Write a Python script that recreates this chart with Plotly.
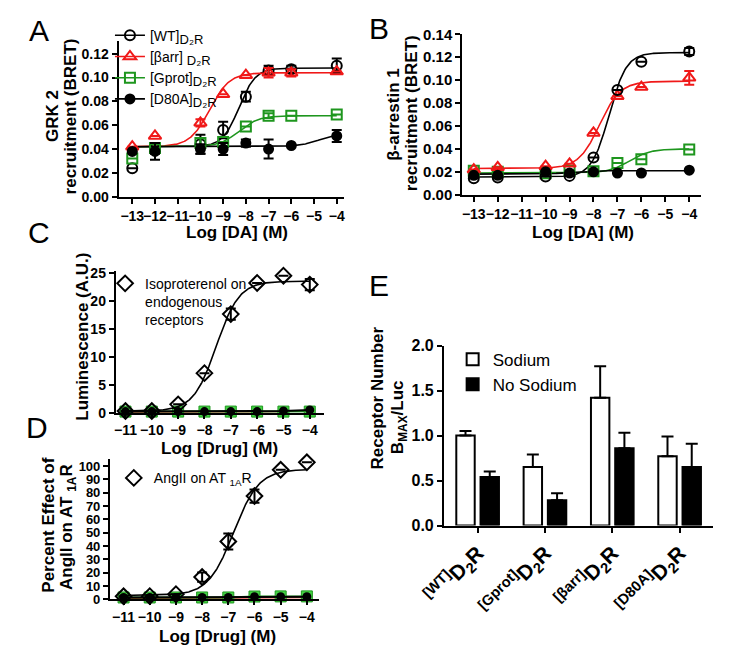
import numpy as np
import plotly.graph_objects as go

FONT = "Liberation Sans, Arial, Helvetica, sans-serif"
BLACK = "#000000"
RED = "#f01818"
GREEN = "#1e961e"
LIGHTGREEN = "#44d444"

W, H = 750, 661

# ---------------- Panel A : GRK2 recruitment ----------------
a_logx = [-13, -12, -10, -9, -8, -7, -6, -4]
a_wt = [0.024, 0.040, 0.044, 0.056, 0.084, 0.106, 0.107, 0.110]
a_wt_err = [0.0, 0.004, 0.008, 0.007, 0.004, 0.004, 0.003, 0.006]
a_barr = [0.042, 0.051, 0.062, 0.086, 0.102, 0.104, 0.104, 0.105]
a_barr_err = [0.0, 0.0, 0.003, 0.0, 0.0, 0.004, 0.003, 0.0]
a_gprot = [0.032, 0.041, 0.045, 0.046, 0.059, 0.068, 0.068, 0.069]
a_gprot_err = [0.0, 0.003, 0.004, 0.0, 0.0, 0.002, 0.0, 0.0]
a_d80a = [0.038, 0.038, 0.040, 0.040, 0.045, 0.040, 0.043, 0.051]
a_d80a_err = [0.0, 0.007, 0.004, 0.005, 0.003, 0.008, 0.0, 0.005]
# fitted sigmoid parameters [bottom, top, logEC50, hill]
a_wt_fit = [0.042, 0.108, -8.3, 1.2]
a_barr_fit = [0.042, 0.104, -9.6, 1.0]
a_gprot_fit = [0.042, 0.068, -8.3, 1.0]
a_d80a_fit = [0.042, 0.053, -4.8, 1.0]

# ---------------- Panel B : beta-arrestin 1 recruitment ----------------
b_logx = [-13, -12, -10, -9, -8, -7, -6, -4]
b_wt = [0.0145, 0.015, 0.016, 0.0165, 0.0325, 0.0915, 0.116, 0.125]
b_wt_err = [0.0, 0.0, 0.0, 0.0, 0.0, 0.0, 0.0, 0.003]
b_barr = [0.022, 0.024, 0.025, 0.027, 0.054, 0.086, 0.094, 0.102]
b_barr_err = [0.0, 0.0, 0.0, 0.0, 0.0, 0.0, 0.0, 0.006]
b_gprot = [0.021, 0.020, 0.0187, 0.021, 0.0206, 0.0277, 0.031, 0.0396]
b_gprot_err = [0.0, 0.0, 0.0, 0.0, 0.0, 0.0, 0.0, 0.0]
b_d80a = [0.017, 0.017, 0.020, 0.019, 0.020, 0.019, 0.019, 0.0215]
b_d80a_err = [0.0, 0.0, 0.0, 0.0, 0.0, 0.0, 0.0, 0.0]
b_wt_fit = [0.0155, 0.124, -7.35, 1.2]
b_barr_fit = [0.023, 0.099, -7.75, 1.0]
b_gprot_fit = [0.019, 0.040, -6.5, 1.0]
b_d80a_fit = [0.018, 0.021, -9.0, 1.0]

# ---------------- Panel C : Isoproterenol luminescence ----------------
c_logx = [-11, -10, -9, -8, -7, -6, -5, -4]
c_iso = [0.3, 0.3, 1.5, 7.1, 17.7, 23.3, 24.6, 23.0]
c_iso_err = [0.0, 0.0, 0.0, 0.0, 1.0, 0.0, 0.0, 1.0]
c_iso_fit = [0.3, 23.6, -7.55, 1.0]
c_barr = [0.1, 0.1, 0.1, 0.1, 0.1, 0.1, 0.2, 0.4]
c_gprot = [0.2, 0.2, 0.2, 0.2, 0.2, 0.2, 0.2, 0.2]
c_d80a = [0.2, 0.2, 0.2, 0.2, 0.2, 0.2, 0.3, 0.5]

# ---------------- Panel D : AngII on AT1AR ----------------
d_logx = [-11, -10, -9, -8, -7, -6, -5, -4]
d_ang = [2.4, 2.5, 4.0, 16.8, 43.5, 77.5, 97.2, 102.8]
d_ang_err = [0.0, 0.0, 0.0, 3.5, 6.0, 5.0, 0.0, 0.0]
d_ang_fit = [3.0, 97.5, -6.8, 0.9]
d_barr = [1.0, 1.0, 1.2, 1.0, 1.2, 1.5, 1.5, 1.5]
d_gprot = [1.5, 1.5, 1.5, 1.5, 1.5, 2.2, 2.3, 2.3]
d_d80a = [1.5, 1.5, 1.5, 1.5, 1.5, 2.0, 2.0, 2.0]

# ---------------- Panel E : receptor number ----------------
e_labels = ["<sup>[WT]</sup>D<sub>2</sub>R", "<sup>[Gprot]</sup>D<sub>2</sub>R",
            "<sup>[βarr]</sup>D<sub>2</sub>R", "<sup>[D80A]</sup>D<sub>2</sub>R"]
e_sodium = [1.00, 0.65, 1.42, 0.77]
e_sodium_err = [0.05, 0.14, 0.35, 0.22]
e_nosodium = [0.54, 0.28, 0.86, 0.65]
e_nosodium_err = [0.06, 0.08, 0.17, 0.26]


def hill(x, p):
    bottom, top, ec50, n = p
    x = np.asarray(x, dtype=float)
    return bottom + (top - bottom) / (1.0 + 10.0 ** ((ec50 - x) * n))


def gap(seq):
    """interleave None so markers show without connecting segments"""
    out = []
    for v in seq:
        out += [v, None]
    return out[:-1]


def gap0(seq):
    out = []
    for v in seq:
        out += [v, 0]
    return out[:-1]


def px_x(px):
    return px / W


def px_y(py):
    return 1 - py / H


fig = go.Figure()

xs_ab = np.linspace(-13, -4, 300)
xs_cd = np.linspace(-11, -4, 300)

# ---- A curves ----
for fit, col in [(a_wt_fit, BLACK), (a_barr_fit, RED), (a_gprot_fit, GREEN), (a_d80a_fit, BLACK)]:
    fig.add_trace(go.Scatter(x=xs_ab, y=hill(xs_ab, fit), mode="lines",
                             line=dict(color=col, width=1.6), showlegend=False,
                             hoverinfo="skip", xaxis="x", yaxis="y"))

series_a = [
    ("[WT]<sub><span style='font-size:13px'>D₂R</span></sub>", a_wt, a_wt_err, BLACK, "circle-open", 10),
    ("[βarr] <sub><span style='font-size:13px'>D₂R</span></sub>", a_barr, a_barr_err, RED, "triangle-up-open", 11),
    ("[Gprot]<sub><span style='font-size:13px'>D₂R</span></sub>", a_gprot, a_gprot_err, GREEN, "square-open", 10),
    ("[D80A]<sub><span style='font-size:13px'>D₂R</span></sub>", a_d80a, a_d80a_err, BLACK, "circle", 9),
]
for name, ys, err, col, sym, size in series_a:
    fig.add_trace(go.Scatter(
        x=gap(a_logx), y=gap(ys), mode="lines+markers", connectgaps=False, name=name,
        line=dict(color=col, width=1.6),
        marker=dict(symbol=sym, size=size, color=col, line=dict(color=col, width=2)),
        error_y=dict(type="data", array=gap0(err), color=col, thickness=2, width=5),
        cliponaxis=False, legend="legend", xaxis="x", yaxis="y"))

# ---- B ----
for fit, col in [(b_wt_fit, BLACK), (b_barr_fit, RED), (b_gprot_fit, GREEN), (b_d80a_fit, BLACK)]:
    fig.add_trace(go.Scatter(x=xs_ab, y=hill(xs_ab, fit), mode="lines",
                             line=dict(color=col, width=1.6), showlegend=False,
                             hoverinfo="skip", xaxis="x2", yaxis="y2"))
series_b = [
    (b_gprot, b_gprot_err, GREEN, "square-open", 10),
    (b_barr, b_barr_err, RED, "triangle-up-open", 11),
    (b_d80a, b_d80a_err, BLACK, "circle", 9),
    (b_wt, b_wt_err, BLACK, "circle-open", 10),
]
for ys, err, col, sym, size in series_b:
    fig.add_trace(go.Scatter(
        x=b_logx, y=ys, mode="markers", showlegend=False,
        marker=dict(symbol=sym, size=size, color=col, line=dict(color=col, width=2)),
        error_y=dict(type="data", array=err, color=col, thickness=2, width=5),
        cliponaxis=False, xaxis="x2", yaxis="y2"))

# ---- C ----
fig.add_trace(go.Scatter(x=c_logx, y=c_barr, mode="lines+markers", showlegend=False,
                         line=dict(color=RED, width=1.5),
                         marker=dict(symbol="triangle-up", size=7, color=RED),
                         cliponaxis=False, xaxis="x3", yaxis="y3"))
fig.add_trace(go.Scatter(x=c_logx, y=c_gprot, mode="lines+markers", showlegend=False,
                         line=dict(color=GREEN, width=2),
                         marker=dict(symbol="square", size=11, color=LIGHTGREEN, line=dict(color=GREEN, width=1)),
                         cliponaxis=False, xaxis="x3", yaxis="y3"))
fig.add_trace(go.Scatter(x=c_logx, y=c_d80a, mode="lines+markers", showlegend=False,
                         line=dict(color=BLACK, width=2),
                         marker=dict(symbol="circle", size=9, color=BLACK),
                         cliponaxis=False, xaxis="x3", yaxis="y3"))
fig.add_trace(go.Scatter(x=xs_cd, y=hill(xs_cd, c_iso_fit), mode="lines", showlegend=False,
                         line=dict(color=BLACK, width=1.6), hoverinfo="skip",
                         xaxis="x3", yaxis="y3"))
fig.add_trace(go.Scatter(x=c_logx, y=c_iso, mode="markers",
                         name="Isoproterenol on<br>endogenous<br>receptors",
                         marker=dict(symbol="diamond-open", size=12, color=BLACK, line=dict(color=BLACK, width=2)),
                         error_y=dict(type="data", array=c_iso_err, color=BLACK, thickness=2, width=5),
                         cliponaxis=False, legend="legend2", xaxis="x3", yaxis="y3"))

# ---- D ----
fig.add_trace(go.Scatter(x=d_logx, y=d_barr, mode="lines+markers", showlegend=False,
                         line=dict(color=RED, width=1.5),
                         marker=dict(symbol="triangle-up", size=7, color=RED),
                         cliponaxis=False, xaxis="x4", yaxis="y4"))
fig.add_trace(go.Scatter(x=d_logx, y=d_gprot, mode="lines+markers", showlegend=False,
                         line=dict(color=GREEN, width=2),
                         marker=dict(symbol="square", size=11, color=LIGHTGREEN, line=dict(color=GREEN, width=1)),
                         cliponaxis=False, xaxis="x4", yaxis="y4"))
fig.add_trace(go.Scatter(x=d_logx, y=d_d80a, mode="lines+markers", showlegend=False,
                         line=dict(color=BLACK, width=2),
                         marker=dict(symbol="circle", size=9, color=BLACK),
                         cliponaxis=False, xaxis="x4", yaxis="y4"))
fig.add_trace(go.Scatter(x=xs_cd, y=hill(xs_cd, d_ang_fit), mode="lines", showlegend=False,
                         line=dict(color=BLACK, width=1.6), hoverinfo="skip",
                         xaxis="x4", yaxis="y4"))
fig.add_trace(go.Scatter(x=d_logx, y=d_ang, mode="markers",
                         name="AngII on AT <sub>1A</sub>R",
                         marker=dict(symbol="diamond-open", size=12, color=BLACK, line=dict(color=BLACK, width=2)),
                         error_y=dict(type="data", array=d_ang_err, color=BLACK, thickness=2, width=5),
                         cliponaxis=False, legend="legend3", xaxis="x4", yaxis="y4"))

# ---- E ----
fig.add_trace(go.Bar(x=e_labels, y=e_sodium, name="Sodium",
                     marker=dict(color="white", line=dict(color=BLACK, width=2)),
                     error_y=dict(type="data", array=e_sodium_err, arrayminus=[0] * 4, symmetric=False,
                                  color=BLACK, thickness=2, width=6),
                     legend="legend4", xaxis="x5", yaxis="y5"))
fig.add_trace(go.Bar(x=e_labels, y=e_nosodium, name="No Sodium",
                     marker=dict(color=BLACK, line=dict(color=BLACK, width=2)),
                     error_y=dict(type="data", array=e_nosodium_err, arrayminus=[0] * 4, symmetric=False,
                                  color=BLACK, thickness=2, width=6),
                     legend="legend4", xaxis="x5", yaxis="y5"))

# ---------------- axes ----------------
def ax(**kw):
    base = dict(showline=True, linecolor=BLACK, linewidth=2, ticks="outside", ticklen=5,
                tickwidth=2, tickcolor=BLACK, showgrid=False, zeroline=False, mirror=False,
                tickangle=0,
                tickfont=dict(family=FONT, size=14, color=BLACK, weight="bold"), fixedrange=True)
    base.update(kw)
    return base


ab_ticks = list(range(-13, -3))
cd_ticks = list(range(-11, -3))

fig.update_layout(
    width=W, height=H, margin=dict(l=0, r=0, t=0, b=0),
    paper_bgcolor="white", plot_bgcolor="white",
    barmode="group", bargap=0.28, bargroupgap=0.24,
    xaxis=ax(domain=[px_x(97), px_x(330)], range=[-13.6, -3.7], tickvals=ab_ticks, anchor="y"),
    yaxis=ax(domain=[px_y(193), px_y(33)], range=[0, 0.1306], tickvals=[0, 0.02, 0.04, 0.06, 0.08, 0.10, 0.12],
             tickformat=".2f", anchor="x"),
    xaxis2=ax(domain=[px_x(453), px_x(700)], range=[-13.48, -3.52], tickvals=ab_ticks, anchor="y2"),
    yaxis2=ax(domain=[px_y(191), px_y(26)], range=[0, 0.14], tickvals=[0, 0.02, 0.04, 0.06, 0.08, 0.10, 0.12, 0.14],
              tickformat=".2f", anchor="x2", tickfont=dict(family=FONT, size=15, color=BLACK, weight="bold")),
    xaxis3=ax(domain=[px_x(94), px_x(310)], range=[-11.37, -3.45], tickvals=cd_ticks, anchor="y3", ticklen=4),
    yaxis3=ax(domain=[px_y(415), px_y(269)], range=[0, 25.5], tickvals=[0, 5, 10, 15, 20, 25], anchor="x3"),
    xaxis4=ax(domain=[px_x(88), px_x(305)], range=[-11.52, -3.52], tickvals=cd_ticks, anchor="y4", ticklen=4),
    yaxis4=ax(domain=[px_y(607), px_y(463)], range=[0, 105], tickvals=list(range(0, 101, 10)), anchor="x4",
              tickfont=dict(family=FONT, size=13, color=BLACK, weight="bold")),
    xaxis5=ax(domain=[px_x(434), px_x(713)], range=[-0.5, 3.5], anchor="y5", type="category",
              tickangle=-45, tickfont=dict(family=FONT, size=21, color=BLACK, weight="bold")),
    yaxis5=ax(domain=[px_y(531), px_y(346)], range=[0, 2.0], tickvals=[0, 0.5, 1.0, 1.5, 2.0],
              tickformat=".1f", anchor="x5", tickfont=dict(family=FONT, size=16, color=BLACK, weight="bold")),
    legend=dict(x=px_x(88), y=px_y(11), xanchor="left", yanchor="top", bgcolor="rgba(0,0,0,0)",
                font=dict(family=FONT, size=14, color=BLACK), itemwidth=30, tracegroupgap=0,
                traceorder="normal", itemclick=False, itemdoubleclick=False),
    legend2=dict(x=px_x(83), y=px_y(266), xanchor="left", yanchor="top", bgcolor="rgba(0,0,0,0)",
                 font=dict(family=FONT, size=14, color=BLACK), itemwidth=30, valign="top",
                 itemclick=False, itemdoubleclick=False),
    legend3=dict(x=px_x(92), y=px_y(466), xanchor="left", yanchor="top", bgcolor="rgba(0,0,0,0)",
                 font=dict(family=FONT, size=14, color=BLACK), itemwidth=30,
                 itemclick=False, itemdoubleclick=False),
    legend4=dict(x=px_x(443), y=px_y(342), xanchor="left", yanchor="top", bgcolor="rgba(0,0,0,0)",
                 font=dict(family=FONT, size=17, color=BLACK), itemwidth=30, traceorder="normal",
                 itemclick=False, itemdoubleclick=False),
)

# ---------------- titles & panel letters ----------------
title_font = dict(family=FONT, size=17, color=BLACK, weight="bold")
titles = [
    ("GRK 2", 28, 110, -90),
    ("recruitment (BRET)", 47, 110, -90),
    ("Log [DA] (M)", 220, 230, 0),
    ("β-arrestin 1", 381, 108, -90),
    ("recruitment (BRET)", 400, 107, -90),
    ("Log [DA] (M)", 578, 230, 0),
    ("Luminescence (A.U.)", 60, 337, -90),
    ("Log [Drug] (M)", 202, 452, 0),
    ("Percent Effect of", 24, 531, -90),
    ("AngII on AT <sub>1A</sub>R", 44, 532, -90),
    ("Log [Drug] (M)", 199, 645, 0),
    ("Receptor Number", 365, 400, -90),
    ("B<sub>MAX</sub>/Luc", 387, 420, -90),
]
for text, x, y, ang in titles:
    fig.add_annotation(text=text, x=px_x(x), y=px_y(y), xref="paper", yref="paper",
                       xanchor="center", yanchor="middle", textangle=ang, showarrow=False,
                       font=title_font)

letters = [("A", 14, 22), ("B", 367, 20), ("C", 14, 230), ("D", 12, 430), ("E", 367, 284)]
for text, x, y in letters:
    fig.add_annotation(text=text, x=px_x(x), y=px_y(y), xref="paper", yref="paper",
                       xanchor="center", yanchor="middle", showarrow=False,
                       font=dict(family=FONT, size=30, color=BLACK))

fig.write_html("out.html", config={"displayModeBar": False, "staticPlot": True},
               post_script="document.body.style.margin='0px';document.body.style.overflow='hidden';")
